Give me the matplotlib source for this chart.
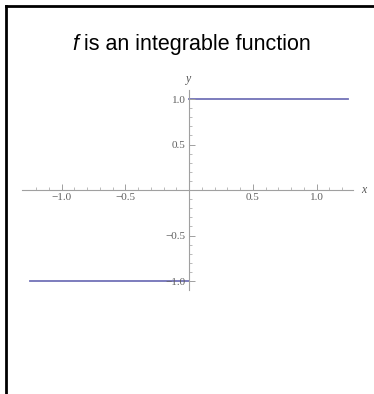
import numpy as np
import matplotlib
matplotlib.use('Agg')
import matplotlib.pyplot as plt
from matplotlib.lines import Line2D

# f(x) = -1 for x < 0, 1 for x > 0, drawn on [-1.25, 1.25]
x_left = [-1.25, 0.0]
y_left = [-1.0, -1.0]
x_right = [0.0, 1.25]
y_right = [1.0, 1.0]

x_major = [-1.0, -0.5, 0.5, 1.0]
y_major = [-1.0, -0.5, 0.5, 1.0]
x_minor = [-1.2, -1.1, -0.9, -0.8, -0.7, -0.6, -0.4, -0.3, -0.2, -0.1,
           0.1, 0.2, 0.3, 0.4, 0.6, 0.7, 0.8, 0.9, 1.1, 1.2]
y_minor = [-0.9, -0.8, -0.7, -0.6, -0.4, -0.3, -0.2, -0.1,
           0.1, 0.2, 0.3, 0.4, 0.6, 0.7, 0.8, 0.9]
tick_text = ['\u22121.0', '\u22120.5', '0.5', '1.0']

W, H = 374, 394
fig = plt.figure(figsize=(W / 100, H / 100), dpi=100)
ax = fig.add_axes([0, 0, 1, 1])
ax.patch.set_alpha(0)

# origin at pixel (189, 190), 127.5 px per x unit, 91 px per y unit
ox, oy, sx, sy = 189, 190, 127.5, 91
ax.set_xlim(-ox / sx, (W - ox) / sx)
ax.set_ylim(-(H - oy) / sy, oy / sy)

line_col = '#7272b8'
ax.plot(x_left, y_left, color=line_col, lw=1.3, zorder=1)
ax.plot(x_right, y_right, color=line_col, lw=1.3, zorder=1)

axis_col = '#a0a0a0'
ax.spines['left'].set_position('zero')
ax.spines['bottom'].set_position('zero')
ax.spines['right'].set_visible(False)
ax.spines['top'].set_visible(False)
ax.spines['bottom'].set_bounds(-1.31, 1.29)
ax.spines['left'].set_bounds(-1.1, 1.1)
for s in ('left', 'bottom'):
    ax.spines[s].set_color(axis_col)
    ax.spines[s].set_linewidth(0.8)

ax.set_xticks(x_major)
ax.set_xticks(x_minor, minor=True)
ax.set_yticks(y_major)
ax.set_yticks(y_minor, minor=True)
ax.set_xticklabels(tick_text)
ax.set_yticklabels(tick_text)
ax.tick_params(which='major', direction='in', length=4, width=0.7,
               color=axis_col, labelsize=8, labelcolor='#606060', pad=2.5)
ax.tick_params(which='minor', direction='in', length=2, width=0.5,
               color=axis_col)
for lab in ax.get_xticklabels() + ax.get_yticklabels():
    lab.set_family(['Liberation Serif'])

ax.text(1.37, 0.0, 'x', fontsize=8.5, style='italic', family='Liberation Serif',
        color='#555555', ha='center', va='center')
ax.text(0.0, 1.22, 'y', fontsize=8.5, style='italic', family='Liberation Serif',
        color='#555555', ha='center', va='center')

# title with italic f
fig.text(72.5 / W, 1 - 50 / H, 'f', fontsize=15.5, style='italic',
         family='Liberation Sans', ha='left', va='baseline')
fig.text(84 / W, 1 - 50 / H, 'is an integrable function', fontsize=15.5,
         family='Liberation Sans', ha='left', va='baseline')

# frame on top and left
fig.add_artist(Line2D([6 / W, 6 / W], [0, 1 - 6 / H], color='black', lw=2,
                      transform=fig.transFigure, solid_capstyle='projecting'))
fig.add_artist(Line2D([6 / W, 1], [1 - 6 / H, 1 - 6 / H], color='black', lw=2,
                      transform=fig.transFigure, solid_capstyle='projecting'))

fig.savefig('out.png', dpi=100)
